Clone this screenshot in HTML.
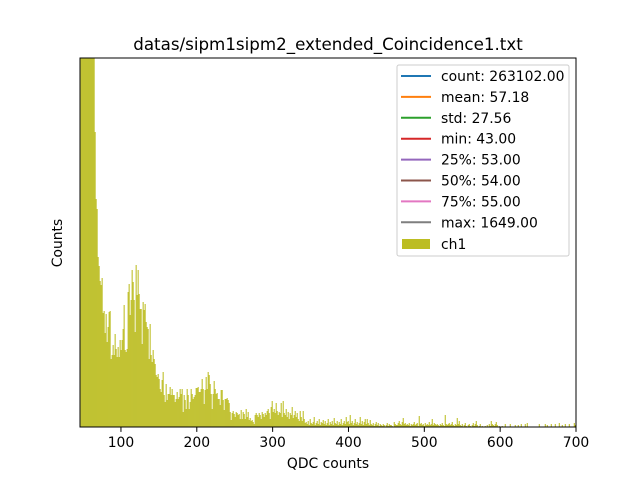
<!DOCTYPE html>
<html><head><meta charset="utf-8"><style>
html,body{margin:0;padding:0;background:#fff;}
svg{display:block;font-family:"DejaVu Sans","Liberation Sans",sans-serif;}
</style></head><body>
<svg id="chart" width="640" height="480" viewBox="0 0 640 480">
<rect x="0" y="0" width="640" height="480" fill="#fff"/>
<text x="328" y="50" font-size="16.7" text-anchor="middle">datas/sipm1sipm2_extended_Coincidence1.txt</text>
<g id="bars"></g>
<rect x="80" y="58" width="496" height="369" fill="none" stroke="#000" stroke-width="1"/>
<g id="xticks"></g>
<text x="328" y="468" font-size="13.9" text-anchor="middle">QDC counts</text>
<text transform="translate(62,243) rotate(-90)" font-size="13.9" text-anchor="middle">Counts</text>
<g>
<rect x="397" y="65" width="172" height="191" rx="2" fill="#fff" fill-opacity="0.8" stroke="#ccc"/>
<g id="legend-entries"></g>
</g>
</svg>
<script>
const categoriesLabels = ["count: 263102.00","mean: 57.18","std: 27.56","min: 43.00","25%: 53.00","50%: 54.00","75%: 55.00","max: 1649.00"];
const legendColors = ["#1f77b4","#ff7f0e","#2ca02c","#d62728","#9467bd","#8c564b","#e377c2","#7f7f7f"];
const xTicks = [100,200,300,400,500,600,700];
const binStart = 46.8;
const binWidth = 1.319;
const counts = [980,950,920,900,860,820,780,740,700,660,620,580,540,510,
295,228,218,170,161,146,142,149,114,116,94,113,85,100,115,116,68,72,82,72,93,78,70,80,70,87,77,87,98,122,77,75,78,135,143,112,127,157,145,127,95,162,132,157,133,118,118,83,125,117,123,105,100,98,68,103,72,65,77,68,63,52,50,53,48,38,35,47,55,32,25,43,27,33,33,40,32,38,32,32,25,28,35,28,30,38,33,38,15,32,27,18,38,32,18,25,38,33,28,30,32,39,39,40,35,35,38,48,38,23,37,50,38,55,52,43,33,18,33,46,38,33,34,28,28,22,37,37,27,17,28,28,29,27,24,15,7,14,16,13,10,15,14,12,13,8,17,8,15,13,8,18,10,15,7,9,6,7,5,3,12,14,
12,10,14,12,8,15,13,10,14,12,16,18,14,8,20,26,15,18,14,24,16,12,15,14,24,10,26,14,12,18,10,15,8,14,12,20,9,12,16,10,14,8,6,16,10,6,16,8,4,5,3,6,2,8,4,3,5,10,2,4,6,3,8,2,5,4,7,3,6,2,4,8,2,5,3,6,2,9,4,3,6,2,5,3,8,2,4,6,3,10,5,6,3,12,4,6,2,4,8,3,5,2,4,10,3,6,2,5,8,3,
8,4,2,7,3,2,4,1,3,5,2,4,1,3,2,1,3,2,0,2,4,1,3,2,2,1,0,5,3,2,2,4,6,3,2,5,9,3,4,2,3,2,4,1,3,2,3,5,2,3,4,1,11,3,4,2,3,1,4,2,3,2,5,2,3,8,2,4,3,2,3,2,1,3,2,4,2,1,12,3,2,3,4,2,3,5,2,1,3,2,9,3,6,2,1,3,0,2,4,1,0,2,3,1,0,2,4,1,3,6,
2,0,1,3,0,1,0,0,1,0,2,0,3,1,6,3,2,1,3,5,2,0,1,0,0,1,0,0,3,0,0,0,0,3,0,0,0,0,2,0,0,2,0,0,3,0,0,0,3,0,4,0,0,0,0,0,0,0,0,0,0,0,3,0,0,0,0,0,3,0,2,0,0,0,3,0,0,0,3,0,0,0,4,0,0,2,0,0,3,0,0,0,3,0,0,0,0,4,2,3];
const xMin = 46, xMax = 700, yMax = 369;
const L = 80, R = 576, T = 58, B = 427;
const NS = "http://www.w3.org/2000/svg";
function xs(v){return L + (v - xMin) * (R - L) / (xMax - xMin);}
function ys(v){return B - Math.min(v, yMax) * (B - T) / yMax;}
const gb = document.getElementById('bars');
counts.forEach((c, i) => {
  if (c <= 0) return;
  const x0 = xs(binStart + i * binWidth), x1 = xs(binStart + (i + 1) * binWidth);
  if (x0 >= R) return;
  const r = document.createElementNS(NS, 'rect');
  r.setAttribute('x', x0);
  r.setAttribute('y', ys(c));
  r.setAttribute('width', Math.min(x1, R) - x0 + 0.05);
  r.setAttribute('height', B - ys(c));
  r.setAttribute('fill', '#bcbd22');
  
  
  gb.appendChild(r);
});
const gx = document.getElementById('xticks');
xTicks.forEach(t => {
  const x = xs(t);
  const l = document.createElementNS(NS, 'line');
  l.setAttribute('x1', x); l.setAttribute('x2', x);
  l.setAttribute('y1', B); l.setAttribute('y2', B + 4.9);
  l.setAttribute('stroke', '#000');
  
  
  gx.appendChild(l);
  const tx = document.createElementNS(NS, 'text');
  tx.setAttribute('x', x); tx.setAttribute('y', B + 20);
  tx.setAttribute('font-size', '13.9');
  tx.setAttribute('text-anchor', 'middle');
  tx.textContent = t;
  
  
  gx.appendChild(tx);
});
const gl = document.getElementById('legend-entries');
categoriesLabels.forEach((lab, i) => {
  const y = 76 + i * 20.9;
  const l = document.createElementNS(NS, 'line');
  l.setAttribute('x1', 401); l.setAttribute('x2', 431);
  l.setAttribute('y1', y); l.setAttribute('y2', y);
  l.setAttribute('stroke', legendColors[i]); l.setAttribute('stroke-width', '2');
  
  
  gl.appendChild(l);
  const tx = document.createElementNS(NS, 'text');
  tx.setAttribute('x', 441); tx.setAttribute('y', y + 5);
  tx.setAttribute('font-size', '13.9');
  tx.textContent = lab;
  
  
  gl.appendChild(tx);
});
const p = document.createElementNS(NS, 'rect');
p.setAttribute('x', 402); p.setAttribute('y', 239); p.setAttribute('width', 28); p.setAttribute('height', 10);
p.setAttribute('fill', '#bcbd22');


gl.appendChild(p);
const pt = document.createElementNS(NS, 'text');
pt.setAttribute('x', 441); pt.setAttribute('y', 249); pt.setAttribute('font-size', '13.9');
pt.textContent = 'ch1';


gl.appendChild(pt);
</script>
</body></html>
